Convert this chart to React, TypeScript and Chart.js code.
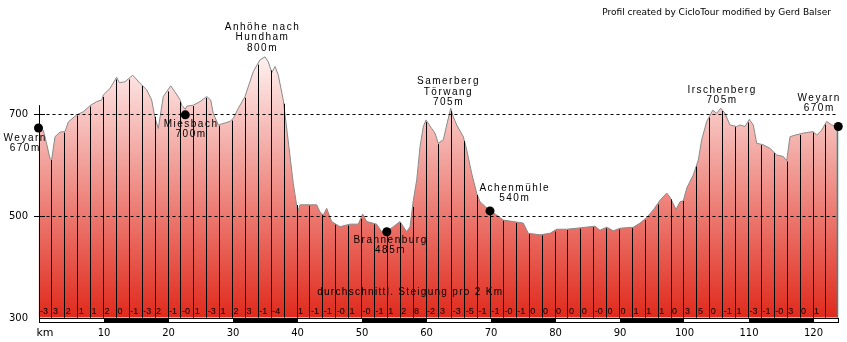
import React, { useEffect, useRef } from "react";
import { Chart, registerables } from "chart.js";

Chart.register(...registerables);

// ---- Data ----
const distanceKm = [
  0, 0.74, 1.3, 1.78, 2.05, 2.56, 3.33, 4.11, 4.62, 5.92, 6.95, 7.98, 9.02, 9.8, 10.05,
  11.09, 12.12, 12.53, 13.41, 14.6, 15.74, 16.78, 17.55, 18.06, 18.57, 19.35, 20.5, 21.16,
  21.94, 22.2, 22.76, 22.98, 24, 25.04, 26.08, 26.7, 27.1, 27.88, 29.69, 30.2, 30.98, 32.02,
  33.3, 34.34, 35.12, 35.63, 36.16, 36.67, 37.18, 37.95, 38.57, 39.5, 40.19, 40.54, 42.09,
  43.13, 43.64, 44.16, 44.68, 45.46, 46.74, 48.29, 49.58, 50.26, 50.88, 52.43, 53.21, 53.98,
  55.01, 56.05, 57.09, 57.6, 58.11, 58.64, 59.15, 59.66, 60.08, 60.96, 61.47, 61.98, 62.76,
  63.29, 63.91, 64.31, 64.84, 65.86, 66.39, 67.16, 67.94, 68.45, 70, 71.04, 72.06, 73.61,
  75.16, 75.94, 77.75, 79.3, 80.34, 81.89, 83.44, 86.28, 87.05, 88.09, 89.12, 90.16, 92.22,
  93.26, 94.29, 95.32, 96.36, 97.4, 97.91, 98.84, 99.46, 99.97, 100.5, 101.52, 102.29,
  102.82, 103.6, 104.53, 105.15, 105.77, 106.43, 107.2, 108.25, 108.76, 109.53, 110.2,
  110.82, 111.35, 112.37, 113.41, 114.45, 115.47, 116, 116.51, 117.29, 118.57, 120.12,
  120.65, 121.43, 122.2, 122.98, 124,
];
const elevationM = [
  672, 669, 640, 613, 612, 656, 665, 666, 685, 699, 705, 717, 725, 728, 738,
  751, 773, 762, 764, 777, 761, 748, 728, 693, 672, 735, 756, 744,
  729, 718, 710, 716, 718, 725, 735, 728, 702, 679, 686, 692, 712, 735,
  784, 807, 813, 803, 782, 794, 777, 728, 663, 564, 508, 522, 522,
  522, 508, 502, 515, 489, 479, 484, 484, 504, 489, 484, 469, 470,
  479, 489, 469, 479, 531, 571, 636, 676, 689, 672, 663, 643, 650,
  679, 712, 695, 679, 656, 630, 584, 545, 528, 510, 502, 492, 489,
  486, 466, 463, 466, 474, 474, 476, 480, 472, 478, 471, 476, 478,
  486, 497, 512, 531, 545, 537, 513, 528, 530, 555, 581, 610,
  650, 686, 708, 702, 712, 702, 679, 676, 679, 676, 690,
  679, 643, 640, 633, 620, 617, 609, 656, 659, 663, 666,
  659, 669, 686, 679, 676,
];

const placeNames = ["Weyarn", "Miesbach", "Brannenburg", "Achenmühle", "Weyarn"];
const placeKm = [0, 22.76, 54, 70, 124];
const placeElev = [673, 699, 469, 510, 676];

const labelLines = [
  ["Weyarn", "670m"],
  ["Miesbach", "700m"],
  ["Anhöhe nach", "Hundham", "800m"],
  ["Samerberg", "Törwang", "705m"],
  ["Brannenburg", "485m"],
  ["Achenmühle", "540m"],
  ["Irschenberg", "705m"],
  ["Weyarn", "670m"],
];
const labelKm = [0, 22.76, 35.12, 63.91, 54, 70, 105.77, 124];
const labelElev = [673, 699, 813, 712, 469, 510, 712, 676];

// average gradient per 2 km segment (segments starting at 0, 2, 4 ... 122 km)
const gradientLabels = [
  "-3", "3", "2", "1", "1", "2", "0", "-1", "-3", "2",
  "-1", "-0", "1", "-3", "1", "2", "3", "-1", "-4", "",
  "1", "-1", "-1", "-0", "1", "-0", "-1", "1", "2", "8",
  "-2", "3", "-3", "-5", "-1", "-1", "-0", "-1", "0", "0",
  "0", "0", "0", "-0", "0", "0", "1", "1", "1", "0",
  "3", "5", "0", "-1", "1", "-3", "-1", "-0", "3", "0",
  "1", "",
];

const yTickValues = [300, 500, 700];
const dashedLevels = [500, 700];
const xTickValues = [0, 10, 20, 30, 40, 50, 60, 70, 80, 90, 100, 110, 120];
const xTickLabels = ["km", "10", "20", "30", "40", "50", "60", "70", "80", "90", "100", "110", "120"];
const totalKm = 124;

const creditText = "Profil created by CicloTour modified by Gerd Balser";
const gradientCaption = "durchschnittl. Steigung pro 2 Km";

// ---- helpers ----
function elevAt(km: number): number {
  for (let i = 0; i < distanceKm.length - 1; i++) {
    if (km >= distanceKm[i] && km <= distanceKm[i + 1]) {
      const t = (km - distanceKm[i]) / (distanceKm[i + 1] - distanceKm[i]);
      return elevationM[i] + t * (elevationM[i + 1] - elevationM[i]);
    }
  }
  return elevationM[elevationM.length - 1];
}

// pixel offsets of the text blocks relative to their anchor (style config)
const labelOffsets = [
  [-14, 10],
  [5, 9.6],
  [-3.3, -29.4],
  [-3, -26.6],
  [3, 8.3],
  [24, -23],
  [0.6, -18.3],
  [-19.8, -28.4],
];

const decorPlugin = {
  id: "profileDecor",
  afterDatasetDraw(chart: any, args: any) {
    if (args.index !== 0) return;
    const ctx = chart.ctx;
    const xs = chart.scales.x;
    const ys = chart.scales.y;
    const bottom = ys.getPixelForValue(300);
    ctx.save();
    ctx.strokeStyle = "#000";
    ctx.lineWidth = 1;
    for (let km = 2; km < totalKm; km += 2) {
      const x = Math.round(xs.getPixelForValue(km)) + 0.5;
      ctx.beginPath();
      ctx.moveTo(x, bottom);
      ctx.lineTo(x, ys.getPixelForValue(elevAt(km)) + 1);
      ctx.stroke();
    }
    // end line
    const xe = Math.round(xs.getPixelForValue(totalKm)) - 0.5;
    ctx.strokeStyle = "#2a8f8f";
    ctx.lineWidth = 1.5;
    ctx.beginPath();
    ctx.moveTo(xe, bottom);
    ctx.lineTo(xe, ys.getPixelForValue(elevAt(totalKm)));
    ctx.stroke();
    // dashed levels
    ctx.strokeStyle = "#000";
    ctx.lineWidth = 1;
    ctx.setLineDash([3, 3]);
    for (const v of dashedLevels) {
      const y = Math.round(ys.getPixelForValue(v)) + 0.5;
      ctx.beginPath();
      ctx.moveTo(xs.getPixelForValue(0) + 2, y);
      ctx.lineTo(xs.getPixelForValue(totalKm), y);
      ctx.stroke();
    }
    ctx.restore();
  },
  afterDraw(chart: any) {
    const ctx = chart.ctx;
    const xs = chart.scales.x;
    const ys = chart.scales.y;
    const bottom = Math.round(ys.getPixelForValue(300));
    const x0 = Math.round(xs.getPixelForValue(0));
    ctx.save();
    // y axis line and ticks
    ctx.strokeStyle = "#000";
    ctx.lineWidth = 1;
    ctx.beginPath();
    ctx.moveTo(x0 + 0.5, bottom);
    ctx.lineTo(x0 + 0.5, ys.getPixelForValue(718));
    ctx.stroke();
    ctx.fillStyle = "#000";
    ctx.font = "10px 'DejaVu Sans'";
    ctx.textAlign = "right";
    ctx.textBaseline = "middle";
    for (const v of yTickValues) {
      const y = Math.round(ys.getPixelForValue(v));
      ctx.fillText(String(v), x0 - 11, y + 0.5);
      if (v !== 300) {
        ctx.beginPath();
        ctx.moveTo(x0 - 5, y + 0.5);
        ctx.lineTo(x0 + 6, y + 0.5);
        ctx.stroke();
      }
    }
    // bottom bar
    const xEnd = Math.round(xs.getPixelForValue(totalKm));
    ctx.fillStyle = "#000";
    ctx.fillRect(x0, bottom, xEnd - x0 + 1, 5);
    ctx.fillStyle = "#fff";
    for (let k = 0; k < totalKm; k += 20) {
      const a = Math.round(xs.getPixelForValue(k));
      const b = Math.round(xs.getPixelForValue(Math.min(k + 10, totalKm)));
      ctx.fillRect(a + 1, bottom + 1, b - a - (k + 10 >= totalKm ? 1 : 0), 3);
    }
    // x tick labels
    ctx.fillStyle = "#000";
    ctx.textBaseline = "middle";
    xTickValues.forEach((v, i) => {
      const x = xs.getPixelForValue(v);
      if (i === 0) {
        ctx.font = "11px 'DejaVu Sans'";
        ctx.textAlign = "left";
        ctx.fillText(xTickLabels[i], x - 2, 333);
      } else {
        ctx.font = "10px 'DejaVu Sans'";
        ctx.textAlign = "center";
        ctx.fillText(xTickLabels[i], x + 1, 333);
      }
    });
    // gradient labels
    ctx.font = "9px 'Liberation Sans'";
    ctx.textAlign = "left";
    ctx.textBaseline = "alphabetic";
    gradientLabels.forEach((t, i) => {
      if (!t) return;
      const x = xs.getPixelForValue(i * 2);
      ctx.fillText(t, x + 1.5, bottom - 4);
    });
    // caption
    ctx.font = "10px 'Liberation Sans'";
    (ctx as any).letterSpacing = "1.3px";
    ctx.textAlign = "left";
    ctx.textBaseline = "middle";
    ctx.fillText(gradientCaption, xs.getPixelForValue(43.2), 292);
    // place labels
    ctx.textAlign = "center";
    (ctx as any).letterSpacing = "1.5px";
    labelLines.forEach((lines, i) => {
      const cx = xs.getPixelForValue(labelKm[i]) + labelOffsets[i][0];
      const cy = ys.getPixelForValue(labelElev[i]) + labelOffsets[i][1];
      lines.forEach((ln, j) => {
        ctx.fillText(ln, cx + 0.75, cy + j * 10.2);
      });
    });
    // credit
    (ctx as any).letterSpacing = "0px";
    ctx.font = "9px 'DejaVu Sans'";
    ctx.textAlign = "right";
    ctx.fillText(creditText, 831, 13);
    ctx.restore();
  },
};

export default function App() {
  const canvasRef = useRef<HTMLCanvasElement | null>(null);
  useEffect(() => {
    const canvas = canvasRef.current;
    if (!canvas) return;
    const chart = new Chart(canvas, {
      type: "line",
      data: {
        datasets: [
          {
            label: "Höhe",
            data: distanceKm.map((k, i) => ({ x: k, y: elevationM[i] })),
            borderColor: "#8a8a8a",
            borderWidth: 1,
            pointRadius: 0,
            tension: 0,
            fill: "start",
            order: 2,
            backgroundColor: (c: any) => {
              const ch = c.chart;
              const area = ch.chartArea;
              if (!area) return "#eb8075";
              const ys = ch.scales.y;
              const g = ch.ctx.createLinearGradient(0, ys.getPixelForValue(830), 0, ys.getPixelForValue(300));
              g.addColorStop(0, "#fff8f8");
              g.addColorStop(1, "#e02a1c");
              return g;
            },
          } as any,
          {
            type: "scatter",
            label: "Orte",
            data: placeKm.map((k, i) => ({ x: k, y: placeElev[i], name: placeNames[i] })),
            pointRadius: 4.5,
            pointBackgroundColor: "#000",
            pointBorderColor: "#000",
            borderWidth: 0,
            order: 1,
            clip: false,
          } as any,
        ],
      },
      options: {
        animation: false,
        responsive: false,
        devicePixelRatio: 1,
        layout: { padding: { left: 38.5, right: 8.7, top: 12.6, bottom: 24.3 } },
        plugins: { legend: { display: false }, tooltip: { enabled: false }, title: { display: false } },
        scales: {
          x: { type: "linear", min: 0, max: totalKm, display: false },
          y: { type: "linear", min: 300, max: 900, display: false },
        },
        events: [],
      },
      plugins: [decorPlugin],
    });
    return () => chart.destroy();
  }, []);
  return (
    <div style={{ position: "absolute", left: 0, top: 0, width: 847, height: 342, background: "#fff" }}>
      <canvas ref={canvasRef} width={847} height={342} style={{ display: "block" }} />
    </div>
  );
}
